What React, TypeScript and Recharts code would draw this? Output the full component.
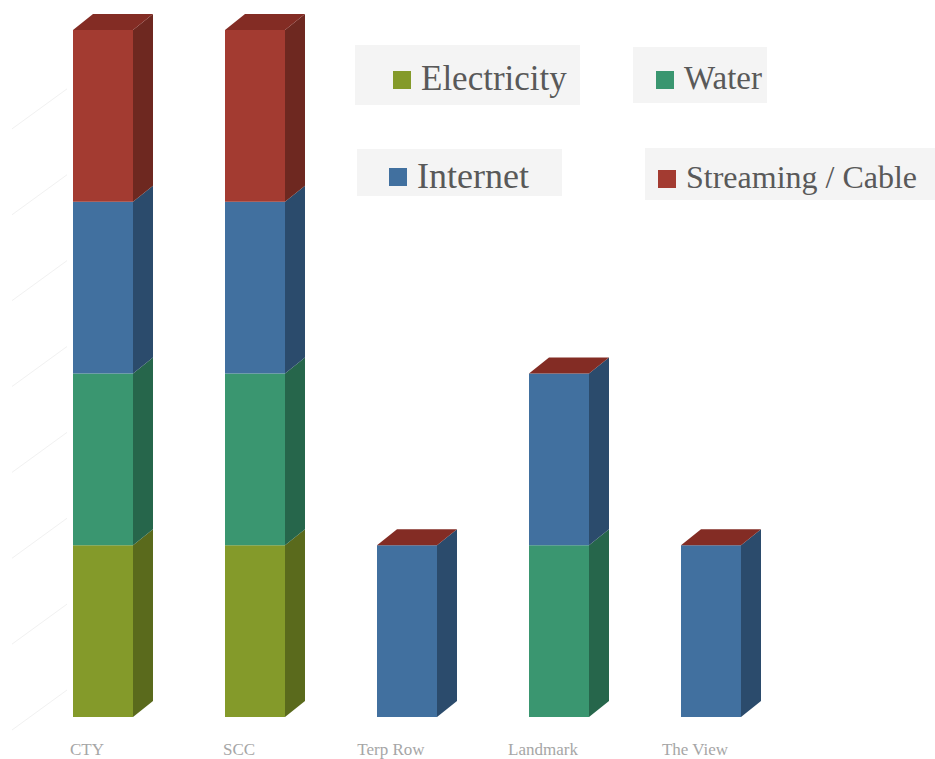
import React from "react";
import { BarChart, Bar, XAxis, YAxis, Legend } from "recharts";

const categories = ["CTY", "SCC", "Terp Row", "Landmark", "The View"];
const electricity = [1, 1, 0, 0, 0];
const water = [1, 1, 0, 1, 0];
const internet = [1, 1, 1, 1, 1];
const streaming = [1, 1, 0, 0, 0];
const wallTicks = [0, 0.5, 1, 1.5, 2, 2.5, 3, 3.5];

const data = categories.map((name, i) => ({
  name,
  electricity: electricity[i],
  water: water[i],
  internet: internet[i],
  streaming: streaming[i],
}));

// front / side / top colours for each series
const SERIES = [
  { key: "electricity", name: "Electricity", front: "#849a2a", side: "#5a6a1c", top: "#6e8022" },
  { key: "water", name: "Water", front: "#3a9670", side: "#26664b", top: "#2f7d5c" },
  { key: "internet", name: "Internet", front: "#41709f", side: "#2b4b6c", top: "#345c84" },
  { key: "streaming", name: "Streaming / Cable", front: "#a33b31", side: "#6e2820", top: "#832c24" },
];

// legend boxes (pixel layout of the picture)
const LEGEND_BOX = [
  { left: 355, top: 45, width: 225, height: 60, pad: 38, size: 35 },
  { left: 633, top: 47, width: 134, height: 56, pad: 23, size: 33 },
  { left: 357, top: 149, width: 205, height: 47, pad: 32, size: 36 },
  { left: 645, top: 148, width: 290, height: 52, pad: 13, size: 32 },
];

const DX = 20;
const DY = -16;
const FONT = "'Liberation Serif', 'DejaVu Serif', serif";

function makeShape(s: (typeof SERIES)[number], drawTop: boolean) {
  return (props: any) => {
    const { x, y, width: w, height: h } = props;
    if (x == null || y == null) return <g />;
    return (
      <g>
        {h > 0 && <rect x={x} y={y} width={w} height={h} fill={s.front} />}
        {h > 0 && (
          <polygon
            points={`${x + w},${y} ${x + w + DX},${y + DY} ${x + w + DX},${y + h + DY} ${x + w},${y + h}`}
            fill={s.side}
          />
        )}
        {drawTop && (
          <polygon
            points={`${x},${y} ${x + DX},${y + DY} ${x + w + DX},${y + DY} ${x + w},${y}`}
            fill={s.top}
          />
        )}
      </g>
    );
  };
}

function WallTick(props: any) {
  const { y } = props;
  return <line x1={12} y1={y + 13} x2={67} y2={y - 27} stroke="#f1f1f1" strokeWidth={1} />;
}

function CatTick(props: any) {
  const { x, y, payload } = props;
  return (
    <text x={x - 16} y={y + 38} textAnchor="middle" fontSize={17} fill="#a6a6a6" fontFamily={FONT}>
      {payload.value}
    </text>
  );
}

function LegendContent() {
  return (
    <div>
      {SERIES.map((s, i) => {
        const b = LEGEND_BOX[i];
        return (
          <div
            key={s.key}
            style={{
              position: "absolute",
              left: b.left,
              top: b.top,
              width: b.width,
              height: b.height,
              background: "#f4f4f4",
              display: "flex",
              alignItems: "center",
              paddingLeft: b.pad,
              paddingTop: 7,
              boxSizing: "border-box",
              fontFamily: FONT,
              fontSize: b.size,
              color: "#595959",
              whiteSpace: "nowrap",
            }}
          >
            <span style={{ display: "inline-block", width: 18, height: 18, background: s.front, marginRight: 10, marginTop: 2 }} />
            <span>{s.name}</span>
          </div>
        );
      })}
    </div>
  );
}

export default function App() {
  return (
    <div style={{ position: "absolute", left: 0, top: 0, width: 935, height: 759, background: "#fff" }}>
      <BarChart width={935} height={759} data={data} margin={{ top: 30, right: 148, left: 0, bottom: 0 }}>
        <XAxis
          dataKey="name"
          height={42}
          axisLine={false}
          tickLine={false}
          tickSize={0}
          tickMargin={0}
          tick={<CatTick />}
          interval={0}
        />
        <YAxis
          width={27}
          domain={[0, 4]}
          ticks={wallTicks}
          axisLine={false}
          tickLine={false}
          tick={<WallTick />}
        />
        <Legend
          layout="vertical"
          align="center"
          verticalAlign="middle"
          content={<LegendContent />}
          wrapperStyle={{ left: 0, top: 0, width: 935, height: 759, pointerEvents: "none" }}
        />
        {SERIES.map((s, i) => (
          <Bar
            key={s.key}
            dataKey={s.key}
            name={s.name}
            stackId="a"
            barSize={60}
            fill={s.front}
            shape={makeShape(s, i === SERIES.length - 1)}
            isAnimationActive={false}
          />
        ))}
      </BarChart>
    </div>
  );
}
